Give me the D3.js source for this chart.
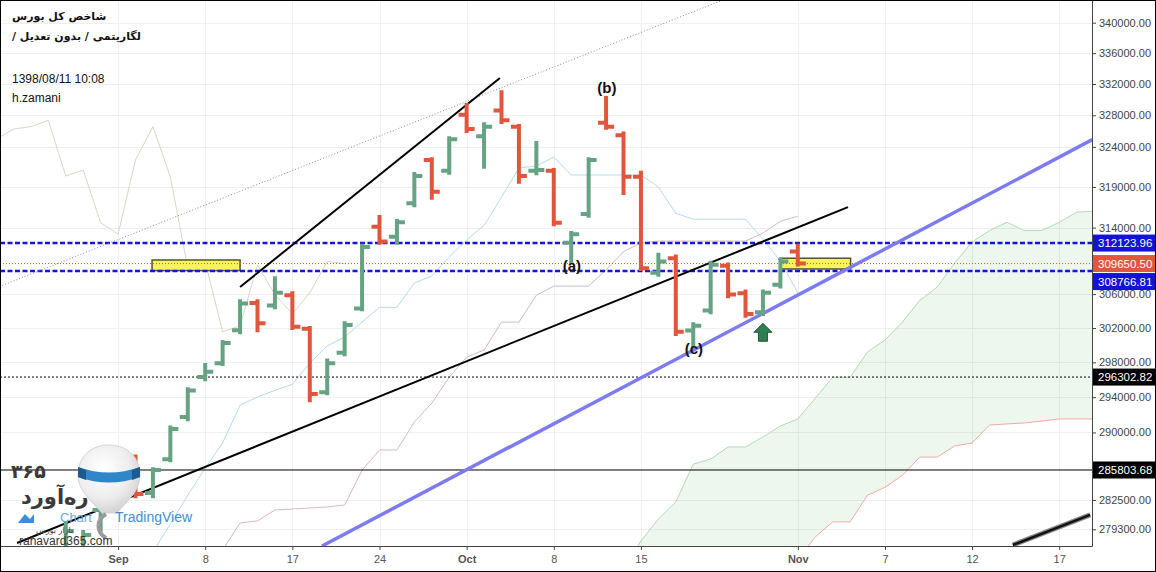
<!DOCTYPE html>
<meta charset="utf-8">
<title>شاخص کل بورس</title>
<style>
body{margin:0;background:#fff;}
#wrap{position:relative;width:1156px;height:572px;overflow:hidden;background:#fff;}
svg{display:block;}
.hdr{position:absolute;left:12px;font-family:'DejaVu Sans',sans-serif;font-size:11px;font-weight:bold;color:#111;direction:rtl;white-space:nowrap;}
.info{position:absolute;left:12px;font-family:'Liberation Sans',Arial,sans-serif;font-size:12px;color:#111;}
.axis text{font-family:'Liberation Sans',Arial,sans-serif;font-size:11px;fill:#444;}
.axis path,.axis line{stroke:#444;}
.wave{font-family:'Liberation Sans',Arial,sans-serif;font-size:15px;font-weight:bold;fill:#111;text-anchor:middle;}
</style>
<div id="wrap">
<svg id="chart" width="1156" height="572"></svg>
<div class="hdr" style="top:10px">شاخص کل بورس</div>
<div class="hdr" style="top:30px">لگاریتمی / بدون تعدیل /</div>
<div class="info" style="top:72px">1398/08/11 10:08</div>
<div class="info" style="top:91px">h.zamani</div>
</div>

<script src="https://d3js.org/d3.v7.min.js"></script>
<script>

// bars, index 0 = 2 Sep 2019 (first index is -4)
var barStart = -4;
var open  = [277270,276510,281400,281950,287100,283250,287000,291750,296300,297900,301750,304950,304650,305850,301900,294550,299100,304300,314100,312900,317000,322350,321000,328050,325350,328600,326550,321000,321000,312150,315650,327050,325450,320250,308550,310300,301700,304050,309400,306100,303850,307100,311100];
var high  = [279990,279010,282490,286680,287300,285900,290550,294900,297700,300350,305150,305150,307900,306100,302000,298200,302550,311800,315300,314800,320600,322450,325100,329300,326850,330950,326650,324500,321100,313350,322450,330200,325700,320750,310700,310500,302450,309750,309550,306300,306300,310100,311800];
var low   = [275970,275970,279230,281620,282900,282900,286900,291500,296050,297800,301500,301750,304450,302000,293650,294450,298950,304200,312150,312150,316750,317650,320750,326000,321500,327150,319650,320700,314400,309850,315450,326400,318250,309000,308300,301300,300000,303850,305750,303450,303650,306900,309550];
var close = [279120,278680,281950,286450,283150,285800,290400,294750,296900,300250,304900,302550,306150,302150,294350,297900,302350,311650,312300,314650,320350,318400,324950,326250,326550,327350,320350,321100,314600,313200,322350,326550,320250,309100,309900,301550,302250,309500,305950,303650,306150,309900,309650.5];

// ichimoku
var tenkanStart = 1;
var tenkan = [276840,279880,283030,286000,288820,293100,294010,294780,295470,297900,299900,300960,302700,304430,304430,307320,308160,310450,312490,314270,317750,321350,321600,322720,320480,320480,320480,320480,320480,318990,315760,315020,315020,315020,315020,312610,309960,306130];
var kijunStart = 4;
var kijun = [275970,277060,279990,280210,281400,281510,281620,281730,281950,285780,288030,288030,291180,293320,296280,298610,299430,302690,302690,305870,306950,306950,306950,308880,311080,312130,312370,312370,312370,312370,312370,312370,313330,314770,315390];
var laggingStart = -8;
var lagging = [324950,326250,326550,327350,320350,321100,314600,313200,322350,326550,320250,309100,309900,301550,302250,309500,305950,303650,306150,309900,309650];
var cloudStart = 28;
var spanA = [274870,278030,280420,282270,286450,287020,288370,288370,289490,290730,291520,293880,296280,296280,299200,300590,302690,305260,306840,309720,312250,313650,314650,313650,313650,314650,315890,316010];
var spanB = [266500,267540,268590,269630,270680,271730,272780,273300,273830,274350,275970,278470,280100,280100,283030,283890,285210,287240,287240,288480,288820,290840,290960,291070,291290,291520,291520,291520];

// axis ticks
var xTickIdx  = [-1, 4, 9, 14, 19, 24, 29, 38, 43, 48, 53];
var xTickText = ["Sep","8","17","24","Oct","8","15","Nov","7","12","17"];
var yTicks = [340000,336000,332000,328000,324000,319000,314000,306000,302000,298000,294000,290000,282500,279300];

// drawings
var blueLevels = [312123.96, 308766.81];
var lastPrice = 309650.50;
var dottedLevel = 296302.82;
var solidLevel = 285803.68;
var trendUpper  = [[6.0, 306840], [20.91, 332770]];
var trendLower  = [[-6.8, 277820], [40.88, 316510]];
var trendDotted = [[-7.8, 306900], [33.7, 343010]];
var trendViolet = [[10.7, 277490], [54.9, 324910]];
var trendBottom = [[50.34, 277600], [54.77, 280860]];
var zoneFrom = [0.95, 36.98], zoneTo = [6.0, 41.03];
var zoneTop = [310080, 310290], zoneBottom = [308800, 309000];
var waveText = ["(a)", "(b)", "(c)"];
var waveIdx = [25.04, 27.05, 32.04];
var wavePrice = [309360, 331490, 299550];
var arrowIdx = 36.0, arrowPrice = 301500;


var svg = d3.select("#chart"),
    W = 1092, H = 546;
var x = d3.scaleLinear().domain([-7.774, 54.88]).range([0, W]);
var y = d3.scaleLog().domain([277494, 343009]).range([H, 0]);

function series(start, arr) { return arr.map(function(v, k) { return [start + k, v]; }); }
var line = d3.line().x(function(d) { return x(d[0]); }).y(function(d) { return y(d[1]); });

var defs = svg.append("defs");
defs.append("clipPath").attr("id", "plot").append("rect").attr("width", W).attr("height", H);
var grad = defs.append("radialGradient").attr("id", "ball").attr("cx", "40%").attr("cy", "35%").attr("r", "70%");
grad.append("stop").attr("offset", "0%").attr("stop-color", "#ffffff");
grad.append("stop").attr("offset", "60%").attr("stop-color", "#eeeeee");
grad.append("stop").attr("offset", "100%").attr("stop-color", "#cfcfcf");

// grid
var grid = svg.append("g").attr("stroke", "#efefef").attr("stroke-width", 1);
grid.selectAll(".gx").data(xTickIdx).enter().append("line")
  .attr("x1", function(d) { return Math.round(x(d)) + 0.5; }).attr("x2", function(d) { return Math.round(x(d)) + 0.5; })
  .attr("y1", 0).attr("y2", H);
grid.selectAll(".gy").data(yTicks).enter().append("line")
  .attr("y1", function(d) { return Math.round(y(d)) + 0.5; }).attr("y2", function(d) { return Math.round(y(d)) + 0.5; })
  .attr("x1", 0).attr("x2", W);

var g = svg.append("g").attr("clip-path", "url(#plot)");

// cloud
var cloud = spanA.map(function(a, k) { return {i: cloudStart + k, a: a, b: spanB[k]}; });
g.append("path").datum(cloud)
  .attr("fill", "rgba(76,175,80,0.1)")
  .attr("d", d3.area().x(function(d) { return x(d.i); }).y0(function(d) { return y(d.b); }).y1(function(d) { return y(d.a); }));
g.append("path").datum(series(cloudStart, spanA)).attr("fill", "none").attr("stroke", "#b2dbb2").attr("d", line);
g.append("path").datum(series(cloudStart, spanB)).attr("fill", "none").attr("stroke", "#f2aaa2").attr("d", line);

g.append("path").datum(series(laggingStart, lagging)).attr("fill", "none").attr("stroke", "#d9d6c4").attr("d", line);
g.append("path").datum(series(kijunStart, kijun)).attr("fill", "none").attr("stroke", "#d8b9be").attr("d", line);
g.append("path").datum(series(tenkanStart, tenkan)).attr("fill", "none").attr("stroke", "#b3dbf0").attr("d", line);

// zones
g.selectAll(".zone").data(zoneFrom).enter().append("rect")
  .attr("x", function(d) { return x(d); })
  .attr("y", function(d, k) { return y(zoneTop[k]); })
  .attr("width", function(d, k) { return x(zoneTo[k]) - x(d); })
  .attr("height", function(d, k) { return y(zoneBottom[k]) - y(zoneTop[k]); })
  .attr("fill", "#f7f35a").attr("stroke", "#55552a").attr("stroke-width", 1.5);

// horizontal levels
function hline(v) { return g.append("line").attr("x1", 0).attr("x2", W).attr("y1", y(v)).attr("y2", y(v)); }
hline(lastPrice).attr("stroke", "#c8642a").attr("stroke-width", 1).attr("stroke-dasharray", "1,2");
blueLevels.forEach(function(v) {
  hline(v).attr("stroke", "#1515e0").attr("stroke-width", 2.5).attr("stroke-dasharray", "5,2.5");
});
hline(dottedLevel).attr("stroke", "#000").attr("stroke-width", 1).attr("stroke-dasharray", "2,2");
hline(solidLevel).attr("stroke", "#000").attr("stroke-width", 1);

// trend lines
g.append("path").datum(trendDotted).attr("stroke", "#8b87a8").attr("stroke-dasharray", "1,2").attr("d", line);
g.append("path").datum(trendViolet).attr("stroke", "#7c7cf0").attr("stroke-width", 3.5).attr("d", line);
g.append("path").datum(trendUpper).attr("stroke", "#000").attr("stroke-width", 2).attr("d", line);
g.append("path").datum(trendLower).attr("stroke", "#000").attr("stroke-width", 2).attr("d", line);
g.append("path").datum(trendBottom).attr("stroke", "#888").attr("stroke-width", 5).attr("d", line);
g.append("path").datum(trendBottom).attr("stroke", "#111").attr("stroke-width", 2.5).attr("d", line);

// bars
var bars = open.map(function(o, k) { return {i: barStart + k, o: o, h: high[k], l: low[k], c: close[k]}; });
g.selectAll(".bar").data(bars).enter().append("path")
  .attr("fill", "none").attr("stroke-width", 4)
  .attr("stroke", function(d) { return d.c >= d.o ? "#65a382" : "#e2553d"; })
  .attr("d", function(d) {
    var cx = x(d.i);
    return "M" + cx + "," + (y(d.h) - 2) + "V" + (y(d.l) + 2) +
           "M" + (cx - 8) + "," + y(d.o) + "H" + cx +
           "M" + cx + "," + y(d.c) + "H" + (cx + 8);
  });

// arrow
var ax = x(arrowIdx), ay = y(arrowPrice);
g.append("path")
  .attr("d", "M" + ax + "," + (ay - 9) + "l9,9h-4.5v9h-9v-9h-4.5z")
  .attr("fill", "#2f7d52").attr("stroke", "#1e5a38").attr("stroke-width", 1);

// wave labels
g.selectAll(".wave").data(waveText).enter().append("text")
  .attr("class", "wave")
  .attr("x", function(d, k) { return x(waveIdx[k]); })
  .attr("y", function(d, k) { return y(wavePrice[k]); })
  .attr("dy", "0.36em")
  .text(function(d) { return d; });

// axes
var yAxis = svg.append("g").attr("class", "axis").attr("transform", "translate(" + W + ",0)")
  .call(d3.axisRight(y).tickValues(yTicks).tickFormat(d3.format(".2f")).tickSize(4).tickSizeOuter(0));
var xAxis = svg.append("g").attr("class", "axis").attr("transform", "translate(0," + H + ")")
  .call(d3.axisBottom(x).tickValues(xTickIdx).tickFormat(function(d, k) { return xTickText[k]; }).tickSize(4).tickSizeOuter(0));
xAxis.selectAll("text").attr("y", 9).style("font-weight", function(d, k) { return isNaN(+xTickText[k]) ? "bold" : "normal"; }).style("fill", "#555");
svg.append("line").attr("x1", W + 0.5).attr("x2", W + 0.5).attr("y1", 0).attr("y2", H).attr("stroke", "#444");

// price labels on the scale
var tags = [
  {v: blueLevels[0], bg: "#1212d8"},
  {v: lastPrice, bg: "#e0573d"},
  {v: blueLevels[1], bg: "#1212d8"},
  {v: dottedLevel, bg: "#000"},
  {v: solidLevel, bg: "#000"}
];
var prev = -100;
tags.forEach(function(t) {
  t.y = Math.max(y(t.v), prev + 18);
  prev = t.y;
});
var tg = svg.append("g").selectAll("g").data(tags).enter().append("g")
  .attr("transform", function(d) { return "translate(" + (W + 1) + "," + d.y + ")"; });
tg.append("rect").attr("x", 0).attr("y", -8.5).attr("width", 1156 - W).attr("height", 17).attr("fill", function(d) { return d.bg; });
tg.append("text").attr("x", 5).attr("dy", "0.35em")
  .style("font-family", "'Liberation Sans',Arial,sans-serif").style("font-size", "11.5px").attr("fill", "#fff")
  .text(function(d) { return d3.format(".2f")(d.v); });

// watermark
var logo = svg.append("g");
logo.append("path")
  .attr("d", "M109,445 C128,445 140,458 140,475 C140,492 126,502 117,513 L102,513 C93,502 78,492 78,475 C78,458 90,445 109,445 Z")
  .attr("fill", "url(#ball)").attr("stroke", "#d4d4d4");
logo.append("path").attr("d", "M78,467 Q109,478 140,467 L140,477 Q109,488 78,477 Z").attr("fill", "#2f86c8");
logo.append("path").attr("d", "M78,467 L86,470 L86,480 L78,477 Z M132,470 L140,467 L140,477 L132,480 Z").attr("fill", "#1c5a8f");
logo.append("path").attr("d", "M106,514 C96,520 96,532 106,538").attr("fill", "none").attr("stroke", "#9a9a9a").attr("stroke-width", 4);
logo.append("text").attr("x", 11).attr("y", 478).style("font-family", "'DejaVu Sans',sans-serif").style("font-weight", "bold").style("font-size", "19px").attr("fill", "#3a3a3a").text("۳۶۵");
logo.append("text").attr("x", 21).attr("y", 504).style("font-family", "'DejaVu Sans',sans-serif").style("font-weight", "bold").style("font-size", "21px").attr("fill", "#3a3a3a").text("ره\u200cآورد");
logo.append("path").attr("d", "M18,523 L25,514 L30,519 L34,514 L34,523 Z").attr("fill", "#3c8fd6");
logo.append("text").attr("x", 60).attr("y", 522).style("font-family", "'Liberation Sans',Arial,sans-serif").style("font-size", "13px").attr("fill", "#6aa9dd").text("Chart");
logo.append("text").attr("x", 36).attr("y", 533).style("font-family", "'DejaVu Sans',sans-serif").style("font-size", "8px").attr("fill", "#444").text("بازار بورس");
logo.append("text").attr("x", 115).attr("y", 522).style("font-family", "'Liberation Sans',Arial,sans-serif").style("font-size", "14px").attr("fill", "#3f8fd2").text("TradingView");
logo.append("text").attr("x", 19).attr("y", 545).style("font-family", "'Liberation Sans',Arial,sans-serif").style("font-size", "12px").attr("fill", "#333").text("rahavard365.com");

// frame
svg.append("rect").attr("x", 0.5).attr("y", 0.5).attr("width", 1155).attr("height", 571).attr("fill", "none").attr("stroke", "#000");
</script>
